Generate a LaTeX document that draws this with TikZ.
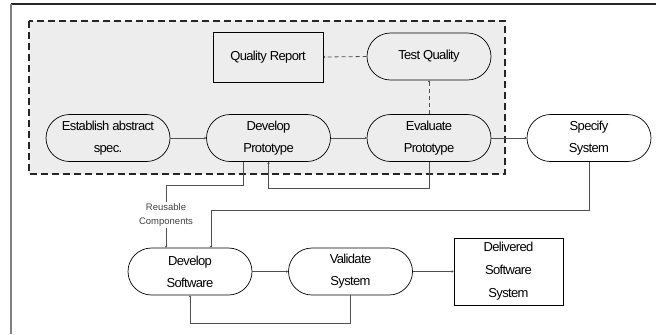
\documentclass[tikz,border=0pt]{standalone}
\usepackage{fontspec}
\setmainfont{Liberation Sans}
\newfontfamily\visfont[LetterSpace=-5]{Liberation Sans}
\usetikzlibrary{arrows.meta}
\definecolor{regiongray}{HTML}{EDEDED}
\definecolor{linegray}{HTML}{505050}
\begin{document}
\begin{tikzpicture}[x=1bp,y=-1bp,
  proc/.style={draw=black, line width=0.7bp, rounded corners=23.5bp,
    minimum width=124bp, minimum height=47bp, align=center, inner sep=0pt,
    font=\visfont\fontsize{13bp}{22bp}\selectfont},
  box/.style={draw=black, line width=0.7bp, align=center, inner sep=0pt,
    font=\visfont\fontsize{13bp}{23bp}\selectfont},
  conn/.style={draw=linegray, line width=0.8bp, -{Stealth[length=2bp,width=2.5bp]}},
  dconn/.style={conn, dash pattern=on 4bp off 3bp},
  lbl/.style={font=\fontsize{9.5bp}{14bp}\selectfont, text=black!75, align=center, inner sep=1pt}
]
\useasboundingbox (0,0) rectangle (656,334);
% outer frame
\draw[black!85, line width=1.2bp] (11,4) -- (656,4);
\draw[gray, line width=1.5bp] (11,4) -- (11,334);
% prototyping region
\draw[fill=regiongray, draw=black!85, line width=1.2bp, dash pattern=on 7bp off 4bp]
  (29,21) rectangle (505,174);
% nodes
\node[box, fill=regiongray, minimum width=110bp, minimum height=50bp] (qr) at (268,57) {Quality Report};
\node[proc, fill=regiongray] (testq) at (429,56.5) {Test Quality};
\node[proc, fill=regiongray] (est) at (108,138) {Establish abstract\\spec.};
\node[proc, fill=regiongray] (dev) at (268.5,138) {Develop\\Prototype};
\node[proc, fill=regiongray] (eval) at (429,138) {Evaluate\\Prototype};
\node[proc, fill=white] (spec) at (589,138) {Specify\\System};
\node[proc, fill=white] (dsw) at (190,271.5) {Develop\\Software};
\node[proc, fill=white] (val) at (350.5,271.5) {Validate\\System};
\node[box, fill=white, minimum width=109bp, minimum height=67bp] (del) at (508.5,271.5) {Delivered\\Software\\System};
\node[lbl] (reuse) at (166,215) {Reusable\\Components};
% connectors
\draw[conn] (est.east) -- (dev.west);
\draw[conn] (dev.east) -- (eval.west);
\draw[conn] (eval.east) -- (spec.west);
\draw[dconn] (testq.west) -- (qr.east);
\draw[dconn] (eval.north) -- (testq.south);
\draw[draw=linegray, line width=0.8bp] ([xshift=-25.5bp]dev.south) |- (166,185) -- (reuse.north);
\draw[conn] (reuse.south) -- (reuse.south |- dsw.north);
\draw[conn] (eval.south) -- ++(0,27) -| (dev.south);
\draw[conn] (spec.south) -- ++(0,49) -| ([xshift=21bp]dsw.north);
\draw[conn] (dsw.east) -- (val.west);
\draw[conn] (val.east) -- (del.west);
\draw[conn] (val.south) -- ++(0,28) -| (dsw.south);
\end{tikzpicture}
\end{document}
